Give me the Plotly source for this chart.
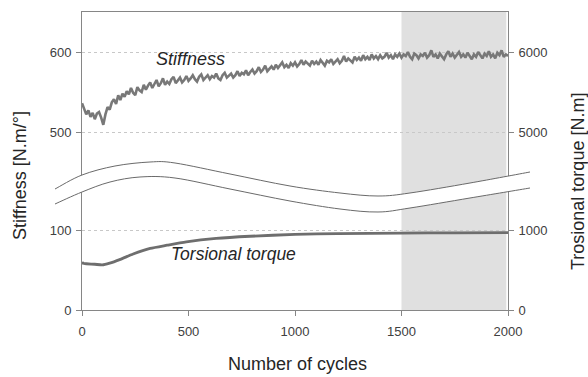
import plotly.graph_objects as go

# ---------------- data ----------------
stiff_cycles = list(range(0, 2001, 10))
stiffness = [
    536, 530, 522, 527, 519, 524, 516, 523, 525, 518,
    509, 522, 531, 528, 537, 541, 535, 546, 540, 548,
    544, 551, 547, 555, 549, 546, 556, 552, 550, 559,
    553, 558, 562, 555, 560, 565, 557, 561, 567, 559,
    563, 560, 566, 569, 561, 564, 568, 562, 565, 570,
    564, 567, 571, 566, 563, 569, 572, 565, 568, 571,
    566, 570, 568, 573, 567, 565, 571, 574, 568, 570,
    573, 568, 571, 576, 570, 574, 572, 577, 571, 575,
    578, 573, 576, 581, 575, 578, 583, 576, 579, 582,
    578, 584, 580, 583, 587, 581, 584, 580, 586, 583,
    587, 582, 585, 590, 584, 588, 586, 583, 589, 585,
    588, 584, 590, 586, 583, 589, 587, 591, 585, 588,
    591, 586, 589, 595, 588, 592, 590, 587, 594, 590,
    593, 589, 596, 591, 594, 590, 597, 592, 595, 591,
    596, 592, 594, 599, 593, 596, 591, 597, 594, 598,
    593, 597, 595, 600, 594, 591, 598, 596, 592, 597,
    595, 599, 593, 596, 602, 594, 597, 592, 598, 595,
    591, 597, 601, 594, 598, 593, 596, 600, 594, 597,
    593, 599, 595, 591, 597, 594, 600, 596, 592, 598,
    595, 601, 594, 597, 592, 599, 596, 602, 594, 597,
    595,
]

torque_cycles = [0, 5, 20, 60, 95, 130, 180, 240, 320, 400, 490, 630, 790, 1000, 1200, 1500, 1750, 2000]
torque = [600, 585, 578, 572, 563, 585, 633, 700, 770, 810, 852, 895, 922, 945, 955, 962, 965, 967]

x_ticks = [0, 500, 1000, 1500, 2000]
left_low_ticks = [0, 100]
left_high_ticks = [500, 600]
right_low_ticks = [0, 1000]
right_high_ticks = [5000, 6000]

shade_start, shade_end = 1500, 1992

# break band (decoration), pixel points converted to paper coordinates
top_wave = [(55, 189), (82, 175), (115, 166), (150, 162), (175, 163), (230, 174),
            (290, 186), (340, 193), (378, 196), (410, 193), (470, 183), (530, 172)]
low_wave = [(55, 204), (82, 192), (110, 182), (140, 177), (175, 178), (230, 189),
            (290, 201), (340, 209), (378, 212), (410, 208), (470, 198), (530, 188)]

L, R, T, B = 82, 80, 12, 67
W, H = 588, 377
PW, PH = W - L - R, H - T - B


def to_paper(p):
    return ((p[0] - L) / PW, (H - B - p[1]) / PH)


def catmull(points, start_cmd=True):
    pts = [to_paper(p) for p in points]
    s = ("M" if start_cmd else "L") + f"{pts[0][0]:.5f},{pts[0][1]:.5f}"
    for i in range(len(pts) - 1):
        p0 = pts[i - 1] if i > 0 else pts[i]
        p1 = pts[i]
        p2 = pts[i + 1]
        p3 = pts[i + 2] if i + 2 < len(pts) else pts[i + 1]
        c1 = (p1[0] + (p2[0] - p0[0]) / 6, p1[1] + (p2[1] - p0[1]) / 6)
        c2 = (p2[0] - (p3[0] - p1[0]) / 6, p2[1] - (p3[1] - p1[1]) / 6)
        s += f" C{c1[0]:.5f},{c1[1]:.5f} {c2[0]:.5f},{c2[1]:.5f} {p2[0]:.5f},{p2[1]:.5f}"
    return s


FONT = "Liberation Sans, Arial, sans-serif"
AX = "#868686"
TXT = "#404040"

fig = go.Figure()
fig.add_trace(go.Scatter(x=stiff_cycles, y=stiffness, mode="lines", yaxis="y3",
                         line=dict(color="#787878", width=2.6), showlegend=False))
fig.add_trace(go.Scatter(x=torque_cycles, y=torque, mode="lines", yaxis="y2",
                         line=dict(color="#6e6e6e", width=2.8, shape="spline", smoothing=0.6),
                         showlegend=False))
fig.add_trace(go.Scatter(x=[0], y=[5000], yaxis="y4", mode="markers",
                         marker=dict(opacity=0), showlegend=False, hoverinfo="skip"))

fig.add_shape(type="rect", xref="x", yref="paper", x0=shade_start, x1=shade_end, y0=0, y1=1,
              fillcolor="#e0e0e0", line=dict(width=0), layer="below")

band = catmull(top_wave) + " " + catmull(list(reversed(low_wave)), start_cmd=False) + " Z"
fig.add_shape(type="path", xref="paper", yref="paper", path=band,
              fillcolor="white", line=dict(width=0), layer="above")
for wave in (top_wave, low_wave):
    fig.add_shape(type="path", xref="paper", yref="paper", path=catmull(wave),
                  line=dict(color="#6a6a6a", width=1), layer="above")

tickfont = dict(family=FONT, size=13, color=TXT)
common_y = dict(ticks="outside", ticklen=5, tickcolor=AX, tickfont=tickfont, zeroline=False,
                ticklabelstandoff=2)

fig.update_layout(
    width=W, height=H, margin=dict(l=L, r=R, t=T, b=B),
    paper_bgcolor="white", plot_bgcolor="white",
    font=dict(family=FONT, color=TXT),
    xaxis=dict(range=[0, 2000], tickvals=x_ticks, ticks="outside", ticklen=5, tickcolor=AX,
               showline=True, linecolor=AX, mirror=True, showgrid=False, zeroline=False,
               tickfont=tickfont, ticklabelstandoff=4),
    yaxis=dict(range=[0, 372.5], tickvals=left_low_ticks, showline=True, linecolor=AX,
               mirror=True, showgrid=True, gridcolor="#c8c8c8", griddash="dot", **common_y),
    yaxis3=dict(range=[277.5, 650], tickvals=left_high_ticks, overlaying="y", side="left",
                showline=False, showgrid=True, gridcolor="#c8c8c8", griddash="dot", **common_y),
    yaxis2=dict(range=[0, 3725], tickvals=right_low_ticks, overlaying="y", side="right",
                showline=False, showgrid=False, **common_y),
    yaxis4=dict(range=[2775, 6500], tickvals=right_high_ticks, overlaying="y", side="right",
                showline=False, showgrid=False, **common_y),
)

title_font = dict(family=FONT, size=18, color="#262626")
fig.add_annotation(text="Stiffness [N.m/°]", xref="paper", yref="paper",
                   x=(20 - L) / PW, y=(H - B - 176) / PH, textangle=-90, showarrow=False,
                   xanchor="center", yanchor="middle", font=title_font)
fig.add_annotation(text="Trosional torque [N.m]", xref="paper", yref="paper",
                   x=(578 - L) / PW, y=(H - B - 182) / PH, textangle=-90, showarrow=False,
                   xanchor="center", yanchor="middle", font=title_font)
fig.add_annotation(text="Number of cycles", xref="paper", yref="paper",
                   x=(297.5 - L) / PW, y=(H - B - 364) / PH, showarrow=False,
                   xanchor="center", yanchor="middle", font=title_font)

fig.add_annotation(text="<i>Stiffness</i>", xref="x", yref="y3", x=510, y=591,
                   showarrow=False, xanchor="center", yanchor="middle",
                   font=dict(family=FONT, size=18, color="#262626"))
fig.add_annotation(text="<i>Torsional torque</i>", xref="x", yref="y", x=712, y=70,
                   showarrow=False, xanchor="center", yanchor="middle",
                   font=dict(family=FONT, size=17.5, color="#262626"))

fig.write_html("out.html")
